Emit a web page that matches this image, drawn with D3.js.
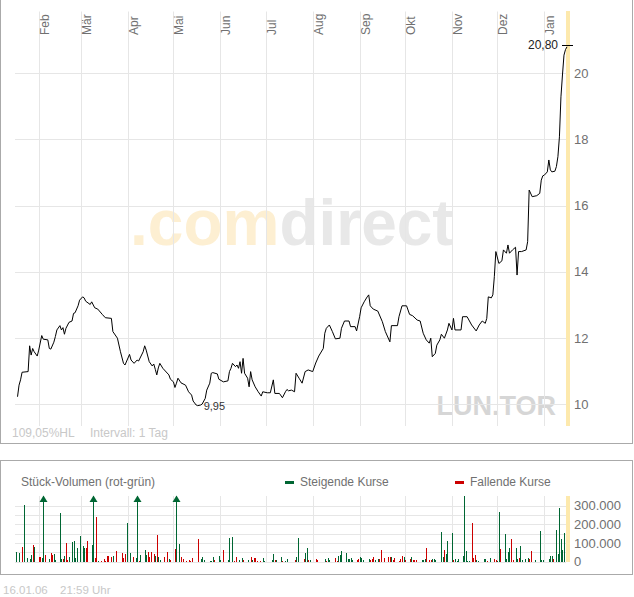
<!DOCTYPE html>
<html>
<head>
<meta charset="utf-8">
<script src="https://cdn.jsdelivr.net/npm/d3@7"></script>
<style>
body { margin: 0; background: #fff; }
svg { display: block; font-family: "Liberation Sans", Arial, sans-serif; }
</style>
</head>
<body>
<div id="chart"></div>
<script>
// Kursverlauf LUN.TOR (Tageskurse)
const priceDates = [
  "05-01-18","05-01-19","05-01-20","05-01-21","05-01-25","05-01-26","05-01-27","05-01-28","05-01-29","05-01-31",
  "05-02-01","05-02-03","05-02-04","05-02-07","05-02-08","05-02-09","05-02-11","05-02-12","05-02-13","05-02-15",
  "05-02-16","05-02-17","05-02-18","05-02-19","05-02-21","05-02-23","05-02-24","05-02-25","05-02-27","05-02-28",
  "05-03-02","05-03-03","05-03-04","05-03-07","05-03-08","05-03-10","05-03-12","05-03-15","05-03-17","05-03-21",
  "05-03-22","05-03-25","05-03-27","05-03-29","05-03-30","05-04-02","05-04-03","05-04-05","05-04-07","05-04-08",
  "05-04-11","05-04-12","05-04-13","05-04-15","05-04-17","05-04-18","05-04-19","05-04-20","05-04-21","05-04-22",
  "05-04-24","05-04-28","05-04-29","05-05-01","05-05-02","05-05-03","05-05-04","05-05-06","05-05-09","05-05-11",
  "05-05-13","05-05-14","05-05-16","05-05-17","05-05-19","05-05-20","05-05-22","05-05-23","05-05-25","05-05-26",
  "05-05-27","05-05-30","05-05-31","05-06-03","05-06-06","05-06-07","05-06-08","05-06-09","05-06-11","05-06-12",
  "05-06-13","05-06-14","05-06-15","05-06-16","05-06-17","05-06-19","05-06-20","05-06-21","05-06-22","05-06-24",
  "05-06-26","05-06-28","05-06-29","05-07-02","05-07-04","05-07-06","05-07-07","05-07-10","05-07-12","05-07-14",
  "05-07-15","05-07-16","05-07-18","05-07-20","05-07-21","05-07-23","05-07-25","05-07-27","05-07-29","05-08-01",
  "05-08-03","05-08-05","05-08-08","05-08-09","05-08-10","05-08-12","05-08-14","05-08-16","05-08-19","05-08-20",
  "05-08-22","05-08-25","05-08-26","05-08-29","05-08-30","05-09-01","05-09-02","05-09-04","05-09-06","05-09-07",
  "05-09-08","05-09-10","05-09-13","05-09-16","05-09-18","05-09-21","05-09-22","05-09-26","05-09-27","05-09-29",
  "05-10-02","05-10-04","05-10-06","05-10-09","05-10-11","05-10-13","05-10-15","05-10-17","05-10-18","05-10-19",
  "05-10-21","05-10-22","05-10-24","05-10-25","05-10-27","05-10-29","05-10-30","05-11-01","05-11-02","05-11-03",
  "05-11-07","05-11-08","05-11-11","05-11-14","05-11-17","05-11-19","05-11-21","05-11-23","05-11-24","05-11-25",
  "05-11-27","05-11-28","05-11-29","05-11-30","05-12-02","05-12-04","05-12-05","05-12-07","05-12-08","05-12-09",
  "05-12-11","05-12-13","05-12-14","05-12-15","05-12-17","05-12-20","05-12-21","05-12-22","05-12-24","05-12-27",
  "05-12-29","05-12-30","05-12-31","06-01-01","06-01-03","06-01-04","06-01-05","06-01-06","06-01-08","06-01-09",
  "06-01-10","06-01-11","06-01-12","06-01-13","06-01-14","06-01-15","06-01-16"
];
const priceValues = [
  10.22,10.57,10.73,10.96,10.98,11.76,11.48,11.68,11.58,11.45,
  11.63,12.07,11.96,11.94,11.68,11.66,11.87,12.04,12.24,12.37,
  12.24,12.31,12.11,12.29,12.47,12.51,12.74,12.76,12.97,13.14,
  13.24,13.21,13.11,13.01,13.09,12.91,12.87,12.71,12.61,12.59,
  12.19,11.99,11.58,11.23,11.18,11.50,11.33,11.23,11.33,11.30,
  11.58,11.76,11.63,11.28,11.15,11.21,11.05,10.88,11.09,11.23,
  11.08,10.88,10.75,10.67,10.50,10.63,10.78,10.64,10.57,10.37,
  10.27,10.09,9.97,9.95,9.97,10.00,10.17,10.42,10.63,10.93,
  10.95,10.91,10.75,10.67,10.70,10.98,11.08,11.23,11.13,11.18,
  11.08,11.28,10.93,11.38,10.93,10.78,10.52,10.98,10.73,10.52,
  10.37,10.24,10.37,10.34,10.34,10.73,10.32,10.32,10.19,10.37,
  10.44,10.40,10.42,10.37,10.93,10.78,10.63,10.98,11.03,10.98,
  11.24,11.45,11.68,12.14,12.29,12.39,12.19,11.97,11.99,12.29,
  12.51,12.51,12.34,12.34,12.21,12.64,12.91,13.09,13.24,13.30,
  12.97,12.87,12.81,12.49,12.19,11.88,12.37,12.37,12.64,12.97,
  12.97,12.71,12.67,12.54,12.51,12.14,11.94,11.84,11.99,11.43,
  11.53,11.78,11.94,12.11,11.99,12.24,12.44,12.24,12.59,12.24,
  12.24,12.64,12.64,12.39,12.21,12.39,12.51,12.44,12.59,13.24,
  13.21,13.30,13.85,14.61,14.25,14.33,14.66,14.56,14.81,14.56,
  14.66,14.74,13.90,14.61,14.61,14.66,14.91,16.47,16.27,16.30,
  16.37,16.77,16.90,16.92,17.02,17.38,17.08,17.02,17.04,17.18,
  17.48,18.08,19.29,19.95,20.55,20.72,20.80
];

// Stück-Volumen (in Tausend), 1 = steigender Kurs, 0 = fallender Kurs
const volDates = [
  "05-01-17","05-01-19","05-01-21","05-01-22","05-01-24","05-01-26","05-01-27","05-01-28","05-01-29","05-02-01",
  "05-02-02","05-02-03","05-02-04","05-02-05","05-02-08","05-02-09","05-02-10","05-02-11","05-02-12","05-02-15",
  "05-02-16","05-02-17","05-02-18","05-02-19","05-02-20","05-02-21","05-02-23","05-02-24","05-02-25","05-02-26",
  "05-02-28","05-03-02","05-03-03","05-03-04","05-03-05","05-03-08","05-03-09","05-03-10","05-03-11","05-03-12",
  "05-03-14","05-03-16","05-03-17","05-03-18","05-03-19","05-03-21","05-03-22","05-03-24","05-03-28","05-03-29",
  "05-03-30","05-03-31","05-04-02","05-04-04","05-04-06","05-04-07","05-04-08","05-04-09","05-04-12","05-04-13",
  "05-04-14","05-04-15","05-04-16","05-04-18","05-04-19","05-04-20","05-04-21","05-04-22","05-04-25","05-04-27",
  "05-04-28","05-04-29","05-05-02","05-05-03","05-05-05","05-05-06","05-05-07","05-05-09","05-05-11","05-05-12",
  "05-05-13","05-05-17","05-05-19","05-05-20","05-05-21","05-05-25","05-05-26","05-05-27","05-05-28","05-05-31",
  "05-06-01","05-06-03","05-06-06","05-06-07","05-06-09","05-06-10","05-06-11","05-06-13","05-06-15","05-06-16",
  "05-06-19","05-06-21","05-06-22","05-06-23","05-06-24","05-06-25","05-06-27","05-06-29","05-06-30","05-07-05",
  "05-07-06","05-07-07","05-07-08","05-07-11","05-07-12","05-07-14","05-07-15","05-07-20","05-07-21","05-07-22",
  "05-07-26","05-07-27","05-07-28","05-07-29","05-07-30","05-08-03","05-08-04","05-08-09","05-08-10","05-08-11",
  "05-08-12","05-08-16","05-08-17","05-08-18","05-08-19","05-08-20","05-08-23","05-08-24","05-08-25","05-08-26",
  "05-08-27","05-08-30","05-08-31","05-09-01","05-09-02","05-09-03","05-09-07","05-09-08","05-09-09","05-09-10",
  "05-09-11","05-09-13","05-09-14","05-09-15","05-09-17","05-09-20","05-09-21","05-09-22","05-09-23","05-09-24",
  "05-09-27","05-09-28","05-09-29","05-09-30","05-10-01","05-10-04","05-10-05","05-10-06","05-10-07","05-10-08",
  "05-10-12","05-10-13","05-10-14","05-10-15","05-10-17","05-10-18","05-10-19","05-10-20","05-10-21","05-10-25",
  "05-10-26","05-10-27","05-10-28","05-10-29","05-11-01","05-11-02","05-11-03","05-11-04","05-11-05","05-11-08",
  "05-11-09","05-11-10","05-11-11","05-11-12","05-11-14","05-11-15","05-11-16","05-11-17","05-11-18","05-11-22",
  "05-11-23","05-11-24","05-11-26","05-11-29","05-11-30","05-12-01","05-12-02","05-12-03","05-12-06","05-12-07",
  "05-12-08","05-12-09","05-12-10","05-12-11","05-12-13","05-12-14","05-12-15","05-12-16","05-12-17","05-12-19",
  "05-12-21","05-12-22","05-12-23","05-12-26","05-12-29","05-12-30","05-12-31","06-01-04","06-01-05","06-01-06",
  "06-01-07","06-01-09","06-01-10","06-01-11","06-01-12","06-01-13","06-01-14"
];
const volThousands = [
  52,48,80,304,20,12,36,89,80,27,
  27,20,420,36,12,46,36,41,11,263,
  14,12,30,102,9,27,105,113,21,71,
  138,84,75,75,111,89,400,20,241,4,
  4,12,5,29,29,25,32,57,46,18,
  41,207,46,27,20,380,5,36,63,38,
  52,27,52,41,30,143,27,11,23,54,
  14,11,68,440,95,27,14,5,9,5,
  20,121,14,25,9,5,5,27,9,30,
  9,63,9,127,132,5,27,9,18,9,
  11,23,9,18,18,5,5,20,5,7,
  41,7,9,23,5,5,14,9,23,127,
  14,48,73,7,9,14,9,14,5,20,
  9,20,5,32,36,57,46,12,14,20,
  7,9,14,25,18,9,14,11,16,25,
  9,14,14,63,20,25,25,25,9,20,
  5,16,29,25,9,12,25,9,9,9,
  9,9,12,73,9,9,14,14,9,159,
  27,63,41,113,154,7,12,5,12,32,
  352,57,5,5,209,18,36,9,5,14,
  14,5,20,14,9,5,266,68,150,16,
  54,75,121,9,73,16,21,84,9,12,
  18,14,57,9,164,11,11,14,30,30,
  14,170,39,288,120,63,155
];
const volRising = [
  1,1,0,1,1,1,1,0,1,0,
  0,1,1,0,1,0,0,1,1,1,
  1,0,1,0,0,1,1,1,1,1,
  1,1,1,0,0,1,1,0,0,1,
  0,0,0,0,0,0,1,0,0,0,
  0,1,1,0,1,1,0,1,1,1,
  0,0,0,0,1,0,1,1,0,0,
  1,0,0,1,1,0,0,0,0,0,
  0,0,1,1,1,1,1,1,0,1,
  1,0,1,1,1,0,0,1,1,0,
  1,0,1,0,0,0,0,1,1,1,
  1,0,1,1,0,1,1,0,1,1,
  0,1,1,0,1,0,0,1,0,1,
  1,0,0,1,1,1,1,1,1,1,
  1,0,0,1,1,1,1,0,0,0,
  1,1,0,0,0,0,0,1,0,0,
  0,0,0,1,0,0,1,0,0,0,
  1,1,1,0,0,0,1,1,1,1,
  1,0,1,1,1,0,1,1,1,1,
  1,1,1,1,0,0,0,1,1,1,
  1,0,1,0,0,1,1,0,1,1,
  1,1,0,0,1,1,0,1,1,1,
  1,0,0,1,1,1,1,1,1,1,
  0,1,1,1,1,1,1
];

const monthLabels = ["Feb", "Mär", "Apr", "Mai", "Jun", "Jul", "Aug", "Sep", "Okt", "Nov", "Dez", "Jan"];
const priceTicks = [10, 12, 14, 16, 18, 20];
const volTicks = [0, 100000, 200000, 300000];
const volGrid = [0, 50000, 100000, 150000, 200000, 250000, 300000];

const parse = d3.timeParse("%y-%m-%d");
const de = d3.formatLocale({ decimal: ",", thousands: ".", grouping: [3], currency: ["", " €"] });

const prices = priceDates.map((d, i) => ({ date: parse(d), value: priceValues[i] }));
const volumes = volDates.map((d, i) => ({ date: parse(d), value: volThousands[i] * 1000, up: volRising[i] === 1 }));

const plotLeft = 15, plotRight = 566;
const gridColor = "#e6e6e6", textColor = "#707070", green = "#006633", red = "#cc0000";

const svg = d3.select("#chart").append("svg")
    .attr("width", 634)
    .attr("height", 597);

// scales
const x = d3.scaleTime()
    .domain([parse("05-01-16"), parse("06-01-16")])
    .range([14.5, 567]);
const y = d3.scaleLinear().domain([9.335, 21.87]).range([426, 11.5]);
const yv = d3.scaleLinear().domain([0, 352000]).range([561.7, 496]);

const months = d3.timeMonth.range(parse("05-02-01"), parse("06-01-17"));
const lastDate = prices[prices.length - 1].date;
const lastX = Math.round(x(lastDate));

// Rahmen
svg.append("rect").attr("x", 0.5).attr("y", -1).attr("width", 632).attr("height", 444.5)
    .attr("fill", "none").attr("stroke", "#aaaaaa");
svg.append("rect").attr("x", 0.5).attr("y", 460.5).attr("width", 632).attr("height", 114)
    .attr("fill", "none").attr("stroke", "#aaaaaa");

// Wasserzeichen
const wm = svg.append("text")
    .attr("x", 130).attr("y", 245)
    .attr("font-size", 64).attr("font-weight", "bold");
wm.append("tspan").attr("fill", "#fdefd2").text(".com");
wm.append("tspan").attr("fill", "#e8e8e8").text("direct");

svg.append("text")
    .attr("x", 556).attr("y", 415)
    .attr("text-anchor", "end")
    .attr("font-size", 27).attr("font-weight", "bold")
    .attr("fill", "#d6d6d6")
    .text("LUN.TOR");

// Gitter Kurschart
const main = svg.append("g");
main.selectAll(".hgrid").data(priceTicks).join("line")
    .attr("x1", plotLeft).attr("x2", plotRight)
    .attr("y1", d => Math.round(y(d)) + 0.5).attr("y2", d => Math.round(y(d)) + 0.5)
    .attr("stroke", gridColor);
main.selectAll(".vgrid").data(months).join("line")
    .attr("x1", d => Math.round(x(d)) + 0.5).attr("x2", d => Math.round(x(d)) + 0.5)
    .attr("y1", 11.5).attr("y2", 426)
    .attr("stroke", gridColor);

// Monatsbeschriftung
main.selectAll(".month").data(months).join("text")
    .attr("transform", d => "translate(" + (Math.round(x(d)) + 10) + ",35) rotate(-90)")
    .attr("font-size", 12)
    .attr("fill", textColor)
    .text((d, i) => monthLabels[i]);

// aktueller Tag
main.append("rect").attr("x", lastX - 1).attr("y", 11).attr("width", 4).attr("height", 415)
    .attr("fill", "#fde9ad");

// Y-Achse
const yAxis = main.append("g")
    .attr("transform", "translate(" + plotRight + ",0)")
    .call(d3.axisRight(y).tickValues(priceTicks).tickSize(0).tickPadding(8).tickFormat(d3.format("d")));
yAxis.select(".domain").remove();
yAxis.selectAll("text").attr("font-size", 13).attr("fill", textColor)
    .attr("font-family", "Liberation Sans, Arial, sans-serif");

// Kurslinie
const line = d3.line().x(d => x(d.date)).y(d => y(d.value));
main.append("path")
    .datum(prices)
    .attr("d", line)
    .attr("fill", "none")
    .attr("stroke", "#000")
    .attr("stroke-width", 1);

// Markierungen Tief / letzter Kurs
const low = prices.reduce((a, b) => (b.value < a.value ? b : a));
const last = prices[prices.length - 1];
main.append("text")
    .attr("x", x(low.date) + 6).attr("y", y(low.value) + 4)
    .attr("font-size", 11).attr("fill", "#333")
    .text(de.format(",.2f")(low.value));
main.append("line")
    .attr("x1", lastX - 5).attr("x2", lastX + 6)
    .attr("y1", Math.round(y(last.value)) - 1.5).attr("y2", Math.round(y(last.value)) - 1.5)
    .attr("stroke", "#000");
main.append("text")
    .attr("x", lastX - 9).attr("y", y(last.value) + 2)
    .attr("text-anchor", "end")
    .attr("font-size", 12).attr("fill", "#222")
    .text(de.format(",.2f")(last.value));

main.append("text")
    .attr("x", 12).attr("y", 437)
    .attr("font-size", 12).attr("fill", "#c8c8c8")
    .text("109,05%HL");
main.append("text")
    .attr("x", 90).attr("y", 437)
    .attr("font-size", 12).attr("fill", "#c8c8c8")
    .text("Intervall: 1 Tag");

// Volumen
const vol = svg.append("g");
vol.append("text").attr("x", 21).attr("y", 486).attr("font-size", 12).attr("fill", textColor)
    .text("Stück-Volumen (rot-grün)");
vol.append("rect").attr("x", 285).attr("y", 481).attr("width", 9).attr("height", 3).attr("fill", green);
vol.append("text").attr("x", 300).attr("y", 486).attr("font-size", 12).attr("fill", textColor)
    .text("Steigende Kurse");
vol.append("rect").attr("x", 455).attr("y", 481).attr("width", 9).attr("height", 3).attr("fill", red);
vol.append("text").attr("x", 470).attr("y", 486).attr("font-size", 12).attr("fill", textColor)
    .text("Fallende Kurse");

vol.selectAll(".vhgrid").data(volGrid).join("line")
    .attr("x1", plotLeft).attr("x2", plotRight)
    .attr("y1", d => Math.round(yv(d)) + 0.5).attr("y2", d => Math.round(yv(d)) + 0.5)
    .attr("stroke", gridColor);
vol.selectAll(".vvgrid").data(months).join("line")
    .attr("x1", d => Math.round(x(d)) + 0.5).attr("x2", d => Math.round(x(d)) + 0.5)
    .attr("y1", 496).attr("y2", 562)
    .attr("stroke", gridColor);
vol.append("rect").attr("x", lastX - 1).attr("y", 496).attr("width", 4).attr("height", 66)
    .attr("fill", "#fde9ad");

const vmax = yv.domain()[1];
vol.selectAll(".bar").data(volumes).join("rect")
    .attr("x", d => Math.round(x(d.date)))
    .attr("width", 1)
    .attr("y", d => Math.round(yv(Math.min(d.value, vmax))))
    .attr("height", d => Math.round(yv(0)) - Math.round(yv(Math.min(d.value, vmax))))
    .attr("fill", d => (d.up ? green : red))
    .attr("shape-rendering", "crispEdges");

// Pfeile für abgeschnittene Balken
vol.selectAll(".arrow").data(volumes.filter(d => d.value > vmax)).join("path")
    .attr("d", d => {
        const cx = Math.round(x(d.date)) + 0.5;
        return "M" + (cx - 4) + ",502 L" + cx + ",495.5 L" + (cx + 4) + ",502 Z";
    })
    .attr("fill", d => (d.up ? green : red));

const vAxis = vol.append("g")
    .attr("transform", "translate(" + plotRight + ",0)")
    .call(d3.axisRight(yv).tickValues(volTicks).tickSize(0).tickPadding(8).tickFormat(de.format(",d")));
vAxis.select(".domain").remove();
vAxis.selectAll("text").attr("font-size", 13).attr("fill", textColor)
    .attr("font-family", "Liberation Sans, Arial, sans-serif");

// Zeitstempel
svg.append("text").attr("x", 3).attr("y", 594).attr("font-size", 11.5).attr("fill", "#c8c8c8").text("16.01.06");
svg.append("text").attr("x", 60).attr("y", 594).attr("font-size", 11.5).attr("fill", "#c8c8c8").text("21:59 Uhr");
</script>
</body>
</html>
